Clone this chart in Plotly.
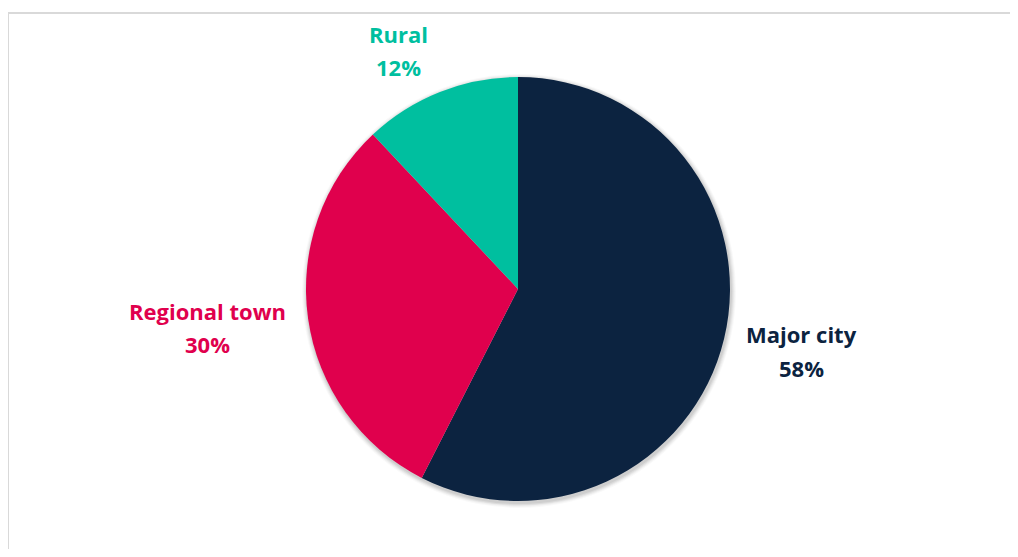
import plotly.graph_objects as go

categories = ["Major city", "Regional town", "Rural"]
values = [57.5, 30.5, 12.0]
pct_labels = [f"{v:.0f}%" for v in values]  # 58%, 30%, 12%
colors = ["#0C2340", "#E0004D", "#00BF9F"]

# page body has an 8px margin; work in figure pixel coords = screen - 8
OFF = 8
W, H = 1018 - 2 * OFF, 557 - 2 * OFF
cx, cy, r = 518 - OFF, 289 - OFF, 212

def px(x):
    return (x - OFF) / W

def py(y):
    return 1 - (y - OFF) / H

fig = go.Figure()
fig.add_trace(go.Pie(
    labels=categories,
    values=values,
    sort=False,
    direction="clockwise",
    rotation=0,
    marker=dict(colors=colors, line=dict(width=0)),
    textinfo="none",
    hoverinfo="label+percent",
    showlegend=False,
    domain=dict(x=[(cx - r) / W, (cx + r) / W], y=[1 - (cy + r) / H, 1 - (cy - r) / H]),
))

# soft shadow around the pie
for k, a in [(5, 0.025), (4, 0.03), (3, 0.04), (2, 0.05), (1, 0.06)]:
    rr = r + k
    fig.add_shape(type="circle", xref="paper", yref="paper",
                  x0=(cx - rr + 1) / W, x1=(cx + rr + 1) / W,
                  y0=1 - (cy + rr + 2) / H, y1=1 - (cy - rr + 2) / H,
                  line=dict(width=0), fillcolor=f"rgba(0,0,0,{a})", layer="below")

label_pos = {"Major city": (801, 334, 368), "Regional town": (207, 311, 344), "Rural": (398, 34, 67)}
for cat, pct, col in zip(categories, pct_labels, colors):
    lx, y1, y2 = label_pos[cat]
    for txt, yy in [(cat, y1), (pct, y2)]:
        fig.add_annotation(
            x=px(lx), y=py(yy), xref="paper", yref="paper",
            text=f"<b>{txt}</b>", showarrow=False,
            font=dict(family="Open Sans, sans-serif", size=22, color=col),
            xanchor="center", yanchor="middle",
        )

fig.add_shape(type="rect", xref="paper", yref="paper",
              x0=px(8), x1=1.05, y0=-0.05, y1=py(13),
              line=dict(color="#D9D9D9", width=2), fillcolor="rgba(0,0,0,0)", layer="below")

fig.update_layout(
    width=W, height=H,
    margin=dict(l=0, r=0, t=0, b=0),
    paper_bgcolor="white", plot_bgcolor="white",
)
fig.write_html("out.html")
